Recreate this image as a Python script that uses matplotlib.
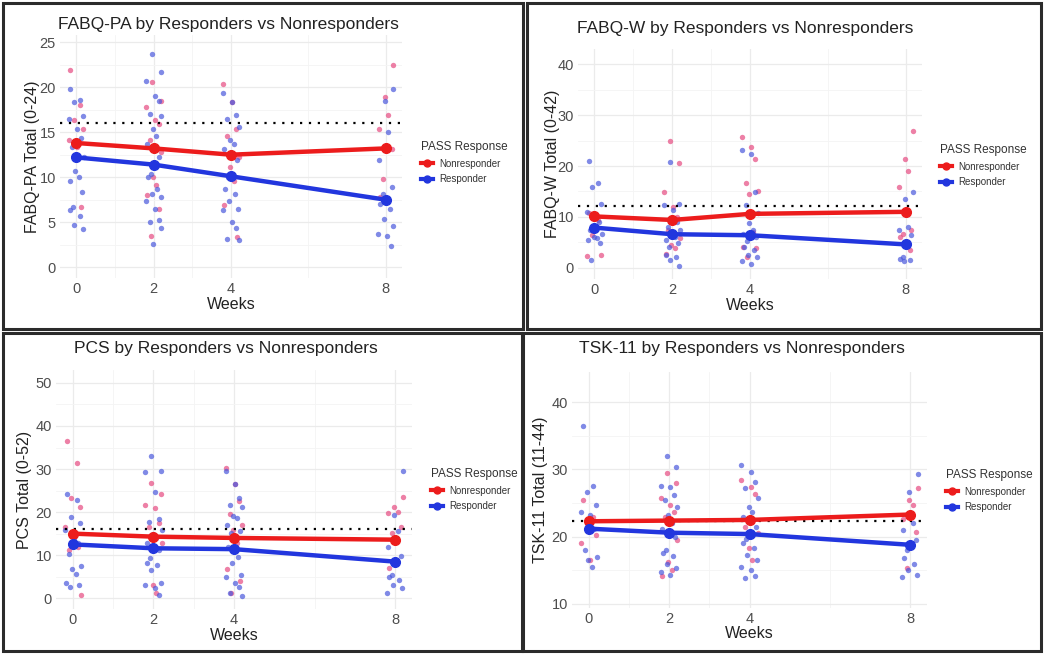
#!/usr/bin/env python3
import matplotlib
matplotlib.use("Agg")
import matplotlib.pyplot as plt
from matplotlib.lines import Line2D
from matplotlib.patches import Rectangle

plt.rcParams['font.family'] = ['Liberation Sans', 'DejaVu Sans']

WEEKS = [0, 2, 4, 8]
WEEK_LABELS = ['0', '2', '4', '8']

# FABQ-PA
PA_NR_MEAN = [13.8, 13.2, 12.5, 13.2]
PA_R_MEAN = [12.2, 11.4, 10.1, 7.5]
PA_CUT = 16
PA_R = {0: [19.8, 18.6, 18.4, 16.8, 16.5, 15.4, 14.4, 13.3, 12.2, 10.7, 10.0, 9.6, 8.4, 6.7, 6.3, 5.7, 4.7, 4.2],
        2: [23.7, 21.7, 20.7, 19.0, 18.5, 17.0, 16.8, 15.4, 14.6, 13.7, 12.2, 10.4, 10.0, 8.7, 8.1, 7.8, 7.4, 6.5, 5.2, 5.0, 4.4, 2.6],
        4: [19.4, 18.3, 16.9, 16.5, 15.6, 14.1, 13.7, 13.1, 11.9, 10.0, 8.7, 8.1, 7.4, 6.5, 6.3, 5.0, 4.3, 3.1, 3.0],
        8: [19.8, 18.5, 15.0, 11.9, 8.9, 8.1, 7.0, 6.5, 5.4, 4.6, 3.7, 3.5, 2.4]}
PA_NR = {0: [21.9, 18.0, 16.3, 15.4, 14.1, 13.3, 6.7],
         2: [20.6, 18.5, 17.8, 16.3, 15.9, 14.1, 12.8, 10.0, 9.1, 8.0, 6.5, 3.5],
         4: [20.4, 18.3, 15.4, 14.6, 12.2, 11.1, 9.6, 6.9, 3.3],
         8: [22.5, 18.9, 16.9, 15.4, 13.1, 9.8, 7.8]}

# FABQ-W
W_NR_MEAN = [10.1, 9.4, 10.6, 11.0]
W_R_MEAN = [7.9, 6.6, 6.4, 4.6]
W_CUT = 12.2
W_R = {0: [20.9, 16.7, 15.9, 12.6, 11.0, 10.0, 9.0, 7.4, 6.7, 6.1, 5.8, 5.4, 4.8, 1.6],
       2: [20.8, 12.6, 12.3, 11.3, 9.0, 8.0, 7.4, 6.7, 6.1, 5.4, 4.8, 4.1, 2.5, 2.2, 1.5, 0.3],
       4: [23.1, 22.4, 14.8, 12.3, 10.7, 8.8, 7.4, 6.7, 6.1, 5.3, 4.1, 3.5, 2.5, 2.2, 1.4, 0.7],
       8: [14.8, 13.5, 8.0, 7.5, 6.4, 2.2, 1.8, 1.5, 1.4]}
W_NR = {0: [10.7, 9.3, 6.4, 2.5, 2.3],
        2: [24.9, 20.5, 14.9, 12.0, 10.0, 7.4, 5.8, 4.4, 3.8, 2.8],
        4: [25.8, 23.7, 21.3, 16.7, 15.1, 14.6, 7.1, 4.1, 3.8, 2.2],
        8: [26.9, 21.4, 19.1, 15.8, 7.4, 6.7, 6.1, 3.5]}

# PCS
PCS_NR_MEAN = [15.0, 14.3, 14.0, 13.6]
PCS_R_MEAN = [12.5, 11.6, 11.4, 8.5]
PCS_CUT = 16
PCS_R = {0: [24.3, 22.8, 18.9, 17.5, 15.8, 13.9, 12.8, 10.3, 7.5, 6.9, 5.6, 3.5, 3.1, 2.6],
         2: [33.1, 29.5, 29.4, 24.7, 18.5, 17.8, 15.8, 14.9, 13.9, 12.8, 11.2, 9.3, 8.1, 7.7, 6.6, 3.5, 3.1, 2.3, 0.8],
         4: [29.5, 26.5, 23.2, 21.6, 21.3, 19.2, 18.7, 17.0, 15.5, 15.1, 12.0, 9.5, 8.1, 5.4, 4.9, 3.5, 2.7, 1.2, 0.5],
         8: [29.5, 19.3, 15.5, 12.0, 9.9, 5.4, 5.0, 4.3, 3.1, 2.3, 1.2]}
PCS_NR = {0: [36.6, 31.3, 23.2, 21.1, 16.6, 14.7, 12.0, 11.2, 0.8],
          2: [26.8, 24.2, 21.6, 21.0, 17.4, 16.6, 12.8, 3.1, 1.3],
          4: [30.3, 26.5, 22.6, 19.6, 17.0, 15.8, 12.8, 6.7, 4.1, 1.2],
          8: [23.6, 21.3, 20.1, 19.7, 16.6, 15.1, 7.0]}

# TSK-11
TSK_NR_MEAN = [22.3, 22.4, 22.5, 23.3]
TSK_R_MEAN = [21.2, 20.6, 20.4, 18.8]
TSK_CUT = 22.4
TSK_R = {0: [36.4, 27.6, 26.7, 24.7, 23.7, 23.2, 21.2, 18.0, 17.0, 16.5, 15.5],
         2: [32.0, 30.4, 27.6, 27.4, 26.2, 25.5, 24.4, 23.2, 22.1, 21.2, 20.0, 18.0, 17.6, 17.1, 16.0, 15.4, 14.8, 14.3],
         4: [30.7, 29.6, 28.1, 27.2, 25.7, 24.4, 23.7, 23.0, 21.5, 19.7, 19.0, 18.3, 17.3, 16.5, 15.5, 15.0, 14.2, 13.8],
         8: [29.3, 26.7, 22.0, 21.0, 19.5, 18.0, 16.9, 16.0, 15.1, 14.3, 14.0]}
TSK_NR = {0: [25.4, 23.0, 22.0, 20.2, 19.0, 16.5],
          2: [29.5, 28.0, 25.7, 24.7, 23.7, 23.0, 19.5, 16.3, 15.0, 14.1],
          4: [28.5, 27.4, 26.3, 21.5, 20.5, 18.3, 16.5],
          8: [27.2, 25.4, 24.7, 22.7, 20.7, 15.3]}

# look
RED_LINE = '#ec1c1c'
BLUE_LINE = '#2236de'
RED_PT = '#e64a80'
BLUE_PT = '#4a58dc'
JITTER = [-0.15, 0.1, -0.05, 0.18, -0.2, 0.03, 0.13, -0.1, 0.2, -0.02, 0.07, -0.17, 0.15, -0.08]
W, H = 1044, 658


def add_panel(fig, box, ylim, yticks, yminor, title, title_xy, ylabel, ylabel_x,
              r_pts, nr_pts, r_mean, nr_mean, cut, legend_xy):
    x0, x1, ytop, ybot = box
    ax = fig.add_axes([x0 / W, 1 - ybot / H, (x1 - x0) / W, (ybot - ytop) / H])
    ax.set_xlim(-0.42, 8.42)
    ax.set_ylim(*ylim)
    ax.set_facecolor('white')
    for s in ax.spines.values():
        s.set_visible(False)
    ax.set_xticks(WEEKS)
    ax.set_xticklabels(WEEK_LABELS)
    ax.set_xticks([1, 3, 6], minor=True)
    ax.set_yticks(yticks)
    ax.set_yticks(yminor, minor=True)
    ax.grid(which='major', color='#ebebeb', lw=0.9)
    ax.grid(which='minor', color='#f4f4f4', lw=0.6)
    ax.set_axisbelow(True)
    ax.tick_params(which='both', length=0, labelsize=10.5, colors='#4d4d4d', pad=3)

    for pts, col in ((nr_pts, RED_PT), (r_pts, BLUE_PT)):
        for wk in WEEKS:
            vals = pts[wk]
            xs = [wk + JITTER[(i + wk) % len(JITTER)] for i in range(len(vals))]
            ax.scatter(xs, vals, s=15, color=col, alpha=0.7, lw=0, zorder=2)

    ax.axhline(cut, color='black', ls=(0, (1, 3)), lw=1.6, zorder=3)
    ax.plot(WEEKS, nr_mean, color=RED_LINE, lw=3.2, marker='o', ms=7, zorder=4)
    ax.plot(WEEKS, r_mean, color=BLUE_LINE, lw=3.2, marker='o', ms=7, zorder=4)

    fig.text(title_xy[0] / W, 1 - title_xy[1] / H, title, ha='center', va='center',
             fontsize=12.5, color='#222222')
    fig.text(ylabel_x / W, 1 - (ytop + ybot) / 2 / H, ylabel, rotation=90,
             ha='center', va='center', fontsize=11.5, color='#222222')
    fig.text((x0 + x1) / 2 / W, 1 - (ybot + 26) / H, 'Weeks', ha='center', va='center',
             fontsize=11.5, color='#222222')

    handles = [Line2D([], [], color=RED_LINE, lw=3, marker='o', ms=5),
               Line2D([], [], color=BLUE_LINE, lw=3, marker='o', ms=5)]
    leg = ax.legend(handles, ['Nonresponder', 'Responder'], title='PASS Response',
                    loc='upper left', bbox_to_anchor=(legend_xy[0] / W, 1 - legend_xy[1] / H),
                    bbox_transform=fig.transFigure, frameon=False, fontsize=7,
                    title_fontsize=8.5, handlelength=1.3, handletextpad=0.6,
                    labelspacing=0.6, alignment='left')
    leg.get_title().set_color('#333333')
    for t in leg.get_texts():
        t.set_color('#333333')
    return ax


fig = plt.figure(figsize=(W / 100, H / 100), dpi=100)
fig.patch.set_facecolor('white')

add_panel(fig, (60, 402, 35, 278), (-1.2, 25.8), [0, 5, 10, 15, 20, 25], [2.5, 7.5, 12.5, 17.5, 22.5],
          'FABQ-PA by Responders vs Nonresponders', (228, 25), 'FABQ-PA Total (0-24)', 33,
          PA_R, PA_NR, PA_R_MEAN, PA_NR_MEAN, PA_CUT, (412, 132))
add_panel(fig, (578, 922, 49, 279), (-2.2, 43), [0, 10, 20, 30, 40], [5, 15, 25, 35],
          'FABQ-W by Responders vs Nonresponders', (745, 29), 'FABQ-W Total (0-42)', 552,
          W_R, W_NR, W_R_MEAN, W_NR_MEAN, W_CUT, (931, 135))
add_panel(fig, (56, 412, 370, 609), (-2.5, 53), [0, 10, 20, 30, 40, 50], [5, 15, 25, 35, 45],
          'PCS by Responders vs Nonresponders', (226, 348), 'PCS Total (0-52)', 25,
          PCS_R, PCS_NR, PCS_R_MEAN, PCS_NR_MEAN, PCS_CUT, (422, 459))
add_panel(fig, (572, 927, 372, 608), (9.4, 44.5), [10, 20, 30, 40], [15, 25, 35],
          'TSK-11 by Responders vs Nonresponders', (742, 349), 'TSK-11 Total (11-44)', 540,
          TSK_R, TSK_NR, TSK_R_MEAN, TSK_NR_MEAN, TSK_CUT, (937, 460))

# dark frames round each panel
for (x, y, w, h) in [(3, 3, 520, 326), (527, 3, 514, 326), (3, 333, 519, 318), (523, 333, 518, 318)]:
    fig.add_artist(Rectangle((x / W, 1 - (y + h) / H), w / W, h / H, transform=fig.transFigure,
                             fill=False, edgecolor='#2b2b2b', lw=2.2))

fig.savefig('out.png', dpi=100, facecolor='white')
